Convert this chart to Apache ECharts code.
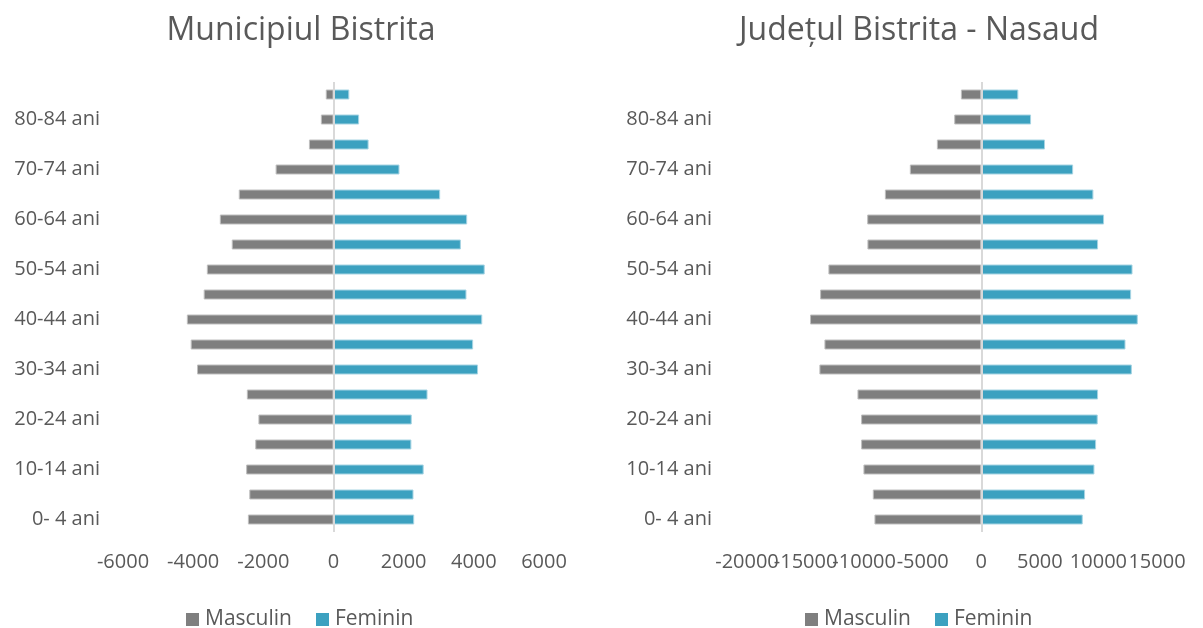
<!DOCTYPE html>
<html>
<head>
<meta charset="utf-8">
<script src="https://cdn.jsdelivr.net/npm/echarts@6/dist/echarts.min.js"></script>
<style>
  html, body { margin: 0; padding: 0; background: #fff; }
  #main { width: 1203px; height: 628px; }
</style>
</head>
<body>
<div id="main"></div>
<script>
'use strict'
// grupe de varsta, de jos in sus
var varste = ['0- 4 ani', '5- 9 ani', '10-14 ani', '15-19 ani', '20-24 ani', '25-29 ani', '30-34 ani',
  '35-39 ani', '40-44 ani', '45-49 ani', '50-54 ani', '55-59 ani', '60-64 ani', '65-69 ani',
  '70-74 ani', '75-79 ani', '80-84 ani', '85+ ani']

// Municipiul Bistrita
var munMasculin = [2440, 2400, 2490, 2230, 2140, 2470, 3890, 4070, 4180, 3700, 3610, 2900, 3240, 2700, 1650, 700, 360, 220]
var munFeminin = [2300, 2280, 2570, 2220, 2230, 2680, 4120, 3980, 4240, 3790, 4310, 3630, 3810, 3040, 1880, 1000, 730, 450]

// Judetul Bistrita - Nasaud
var judMasculin = [9120, 9260, 10060, 10260, 10260, 10570, 13820, 13390, 14620, 13760, 13050, 9720, 9740, 8230, 6100, 3790, 2310, 1740]
var judFeminin = [8660, 8860, 9660, 9800, 9940, 9970, 12850, 12310, 13360, 12790, 12910, 9970, 10480, 9570, 7840, 5440, 4250, 3160]

var culoareM = '#7f7f7f'
var culoareF = '#3ca1c0'
var text = '#595959'
var font = 'Open Sans'

function neg(arr) {
  return arr.map(function (v) { return -v })
}

function bara(nume, date, idx, culoare, contur, cuLinie) {
  var s = {
    name: nume,
    type: 'bar',
    xAxisIndex: idx,
    yAxisIndex: idx,
    barWidth: 10,
    barGap: '-100%',
    data: date,
    itemStyle: { color: culoare, borderColor: contur, borderWidth: 1 }
  }
  if (cuLinie) {
    s.markLine = {
      silent: true,
      symbol: 'none',
      label: { show: false },
      lineStyle: { color: '#d9d9d9', width: 2, type: 'solid' },
      data: [{ xAxis: 0 }]
    }
  }
  return s
}

// filtru: ce etichete arata axa (pe judet etichetele se suprapun, asa ca sunt impartite pe doua axe)
function axaX(grid, min, max, interval, filtru) {
  return {
    type: 'value', gridIndex: grid, position: 'bottom', min: min, max: max, interval: interval,
    axisLine: { show: false, onZero: false }, axisTick: { show: false }, splitLine: { show: false },
    axisLabel: {
      color: text, fontFamily: font, fontSize: 20, margin: 20,
      showMinLabel: true, showMaxLabel: true, hideOverlap: false,
      formatter: function (v) { return filtru(v) ? String(v) : '' }
    }
  }
}

function axaY(idx, margin) {
  return {
    type: 'category', gridIndex: idx, data: varste,
    axisLine: { show: false, onZero: false }, axisTick: { show: false },
    axisLabel: { color: text, fontFamily: font, fontSize: 20, margin: margin, interval: 1 }
  }
}

function legenda(centru) {
  return {
    data: ['Masculin', 'Feminin'],
    left: centru - 118, top: 604,
    itemWidth: 13, itemHeight: 13, itemGap: 24,
    icon: 'rect',
    itemStyle: { borderWidth: 0 },
    textStyle: { color: text, fontFamily: font, fontSize: 21, padding: [0, 0, 0, 1] }
  }
}

function grila(left, width) {
  return {
    left: left, width: width, top: 82, height: 450,
    containLabel: false, outerBoundsMode: 'none'
  }
}

function toate() { return true }
function pare(v) { return Math.round(v / 5000) % 2 === 0 }
function impare(v) { return Math.round(v / 5000) % 2 !== 0 }

var myChart = echarts.init(document.getElementById('main'))
var option = {
  animation: false,
  title: [
    { text: 'Municipiul Bistrita', left: 296, top: 10, textAlign: 'center',
      textStyle: { color: text, fontFamily: font, fontSize: 32, fontWeight: 'normal' } },
    { text: 'Județul Bistrita - Nasaud', left: 914, top: 10, textAlign: 'center',
      textStyle: { color: text, fontFamily: font, fontSize: 32, fontWeight: 'normal' } }
  ],
  legend: [legenda(299), legenda(918)],
  grid: [grila(123, 421), grila(747, 410)],
  xAxis: [
    axaX(0, -6000, 6000, 2000, toate),
    axaX(1, -20000, 15000, 5000, pare),
    axaX(1, -20000, 15000, 5000, impare)
  ],
  yAxis: [axaY(0, 23), axaY(1, 35)],
  series: [
    bara('Masculin', neg(munMasculin), 0, culoareM, '#bfbfbf', true),
    bara('Feminin', munFeminin, 0, culoareF, '#a6d4e3', false),
    bara('Masculin', neg(judMasculin), 1, culoareM, '#bfbfbf', true),
    bara('Feminin', judFeminin, 1, culoareF, '#a6d4e3', false)
  ]
}
myChart.setOption(option)
</script>
</body>
</html>
